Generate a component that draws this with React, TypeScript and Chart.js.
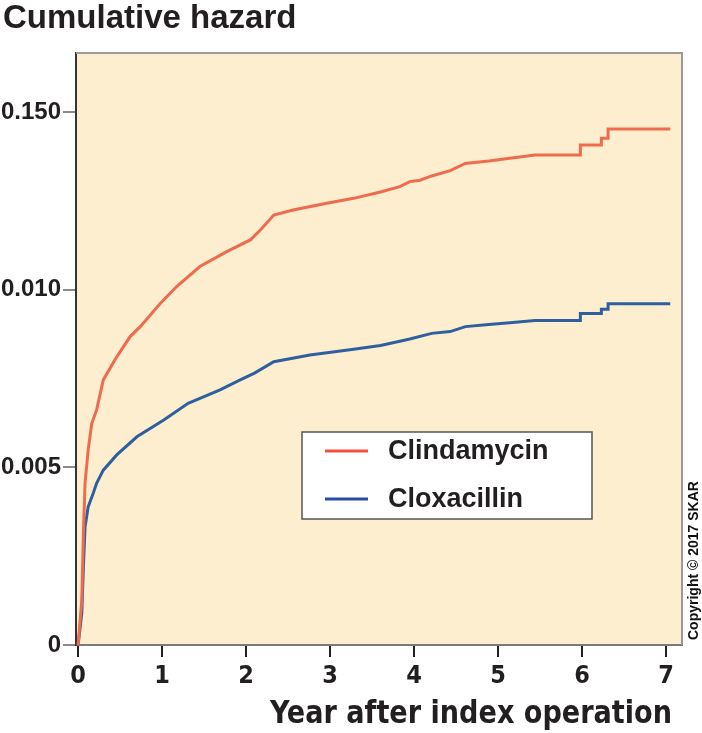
import React, { useEffect, useRef } from "react";
import { Chart, registerables } from "chart.js";

Chart.register(...registerables);

// ---- Data ----
const seriesNames = ["Clindamycin", "Cloxacillin"];

const clindaYears = [
  0, 0.044, 0.063, 0.083, 0.12, 0.163, 0.22, 0.3, 0.46, 0.62, 0.74, 0.98, 1.17, 1.45, 1.77,
  2.05, 2.17, 2.33, 2.56, 2.96, 3.28, 3.6, 3.83, 3.95, 4.07, 4.21, 4.43, 4.61, 4.89, 5.14,
  5.44, 5.98, 5.98, 6.23, 6.23, 6.31, 6.31, 7.05,
];
const clindaHazard = [
  0, 0.00127, 0.00315, 0.00456, 0.00549, 0.00624, 0.00661, 0.00746, 0.00811, 0.00868,
  0.00896, 0.00962, 0.01008, 0.01065, 0.01107, 0.0114, 0.01168, 0.0121, 0.01224, 0.01243,
  0.01257, 0.01275, 0.0129, 0.01304, 0.01308, 0.0132, 0.01335, 0.01355, 0.01362, 0.0137,
  0.01379, 0.01379, 0.01407, 0.01407, 0.01426, 0.01426, 0.01452, 0.01452,
];

const cloxaYears = [
  0, 0.044, 0.063, 0.083, 0.12, 0.18, 0.22, 0.3, 0.46, 0.7, 1.02, 1.31, 1.69, 1.93, 2.1,
  2.33, 2.76, 3.28, 3.6, 3.83, 3.95, 4.21, 4.43, 4.61, 4.89, 5.14, 5.44, 5.98, 5.98, 6.23,
  6.23, 6.31, 6.31, 7.05,
];
const cloxaHazard = [
  0, 0.0009, 0.0022, 0.00333, 0.00389, 0.00427, 0.00455, 0.00492, 0.00535, 0.00586,
  0.00633, 0.0068, 0.00718, 0.00746, 0.00765, 0.00797, 0.00816, 0.00832, 0.00843, 0.00855,
  0.00861, 0.00877, 0.00882, 0.00896, 0.00902, 0.00907, 0.00913, 0.00913, 0.00933, 0.00933,
  0.00945, 0.00945, 0.0096, 0.0096,
];

const xTickValues = [0, 1, 2, 3, 4, 5, 6, 7];
const yTickValues = [0, 0.005, 0.01, 0.015];
const yTickLabels = ["0", "0.005", "0.010", "0.150"];

const chartTitle = "Cumulative hazard";
const xAxisTitle = "Year after index operation";
const copyrightText = "Copyright \u00a9 2017 SKAR";

// ---- Styles ----
const ORANGE = "#EE6C4D";
const BLUE = "#2E609F";
const LEGEND_ORANGE = "#F0503C";
const LEGEND_BLUE = "#2A4BA6";
const BG = "#FDEED0";
const TEXT = "#231F20";
const SANS = '"Liberation Sans", Arial, Helvetica, sans-serif';
const NARROW = '"Liberation Sans Narrow", "DejaVu Sans Condensed", "Liberation Sans", Arial, sans-serif';

const decorPlugin = {
  id: "decor",
  beforeDraw(chart: any) {
    const { ctx, chartArea: a } = chart;
    ctx.save();
    ctx.fillStyle = "#ffffff";
    ctx.fillRect(0, 0, chart.width, chart.height);
    ctx.fillStyle = BG;
    ctx.fillRect(a.left, a.top, a.right - a.left, a.bottom - a.top);
    ctx.restore();
  },
  afterDraw(chart: any) {
    const { ctx, chartArea: a } = chart;
    ctx.save();
    // top & right frame
    ctx.strokeStyle = "#9a9a9a";
    ctx.lineWidth = 2;
    ctx.beginPath();
    ctx.moveTo(a.left, a.top);
    ctx.lineTo(a.right, a.top);
    ctx.lineTo(a.right, a.bottom);
    ctx.stroke();

    // title
    ctx.fillStyle = TEXT;
    ctx.font = `bold 33px ${SANS}`;
    ctx.textAlign = "left";
    ctx.textBaseline = "alphabetic";
    ctx.fillText(chartTitle, 3, 28, 294);

    // x-axis title
    ctx.font = `bold 32px ${NARROW}`;
    ctx.textAlign = "right";
    ctx.fillText(xAxisTitle, a.right - 10, 723, 402);

    // copyright (vertical)
    ctx.save();
    ctx.translate(a.right + 16, a.bottom - 5);
    ctx.rotate(-Math.PI / 2);
    ctx.font = `bold 14px ${SANS}`;
    ctx.textAlign = "left";
    ctx.fillStyle = "#111";
    ctx.fillText(copyrightText, 0, 0, 170);
    ctx.restore();

    // legend box
    const bx = 302, by = 432, bw = 290, bh = 87;
    ctx.fillStyle = "#ffffff";
    ctx.fillRect(bx, by, bw, bh);
    ctx.strokeStyle = "#555";
    ctx.lineWidth = 1.5;
    ctx.strokeRect(bx, by, bw, bh);
    const colors = [LEGEND_ORANGE, LEGEND_BLUE];
    const rows = [451, 499];
    ctx.font = `bold 27px ${SANS}`;
    ctx.textAlign = "left";
    ctx.textBaseline = "middle";
    seriesNames.forEach((name, i) => {
      ctx.strokeStyle = colors[i];
      ctx.lineWidth = 3;
      ctx.beginPath();
      ctx.moveTo(325, rows[i]);
      ctx.lineTo(368, rows[i]);
      ctx.stroke();
      ctx.fillStyle = TEXT;
      ctx.fillText(name, 388, rows[i] + 1);
    });
    ctx.restore();
  },
};

export default function App() {
  const canvasRef = useRef<HTMLCanvasElement | null>(null);

  useEffect(() => {
    const canvas = canvasRef.current;
    if (!canvas) return;
    const chart = new Chart(canvas, {
      type: "line",
      data: {
        datasets: [
          {
            label: seriesNames[0],
            data: clindaYears.map((x, i) => ({ x, y: clindaHazard[i] })),
            borderColor: ORANGE,
            borderWidth: 3,
            pointRadius: 0,
            tension: 0,
            fill: false,
          },
          {
            label: seriesNames[1],
            data: cloxaYears.map((x, i) => ({ x, y: cloxaHazard[i] })),
            borderColor: BLUE,
            borderWidth: 3,
            pointRadius: 0,
            tension: 0,
            fill: false,
          },
        ],
      },
      options: {
        animation: false,
        responsive: false,
        devicePixelRatio: 1,
        layout: { padding: { top: 53, right: 20, left: 0, bottom: 0 } },
        plugins: {
          legend: { display: false },
          tooltip: { enabled: false },
          title: { display: false },
        },
        scales: {
          x: {
            type: "linear",
            min: -0.025,
            max: 7.19,
            afterBuildTicks: (scale: any) => {
              scale.ticks = xTickValues.map((v) => ({ value: v }));
            },
            afterFit: (scale: any) => {
              scale.height = 88;
            },
            grid: {
              drawOnChartArea: false,
              drawTicks: true,
              tickLength: 12,
              color: "#222",
              lineWidth: 2,
            },
            border: { display: true, color: "#7a7a7a", width: 2 },
            ticks: {
              color: TEXT,
              font: { family: NARROW, size: 25, weight: "bold" },
              padding: 4,
              maxRotation: 0,
              callback: (v: any) => String(v),
            },
          },
          y: {
            type: "linear",
            min: 0,
            max: 0.01666,
            afterBuildTicks: (scale: any) => {
              scale.ticks = yTickValues.map((v) => ({ value: v }));
            },
            afterFit: (scale: any) => {
              scale.width = 76;
            },
            grid: {
              drawOnChartArea: false,
              drawTicks: true,
              tickLength: 13,
              color: "#8a8a8a",
              lineWidth: 2,
            },
            border: { display: true, color: "#333", width: 2 },
            ticks: {
              color: TEXT,
              font: { family: SANS, size: 24, weight: "bold" },
              padding: 2,
              callback: (v: any) => {
                const idx = yTickValues.findIndex((t) => Math.abs(t - v) < 1e-9);
                return idx >= 0 ? yTickLabels[idx] : "";
              },
            },
          },
        },
      },
      plugins: [decorPlugin],
    });
    return () => chart.destroy();
  }, []);

  return (
    <div style={{ position: "absolute", left: 0, top: 0, width: 702, height: 733 }}>
      <canvas ref={canvasRef} width={702} height={733} style={{ display: "block" }} />
    </div>
  );
}
